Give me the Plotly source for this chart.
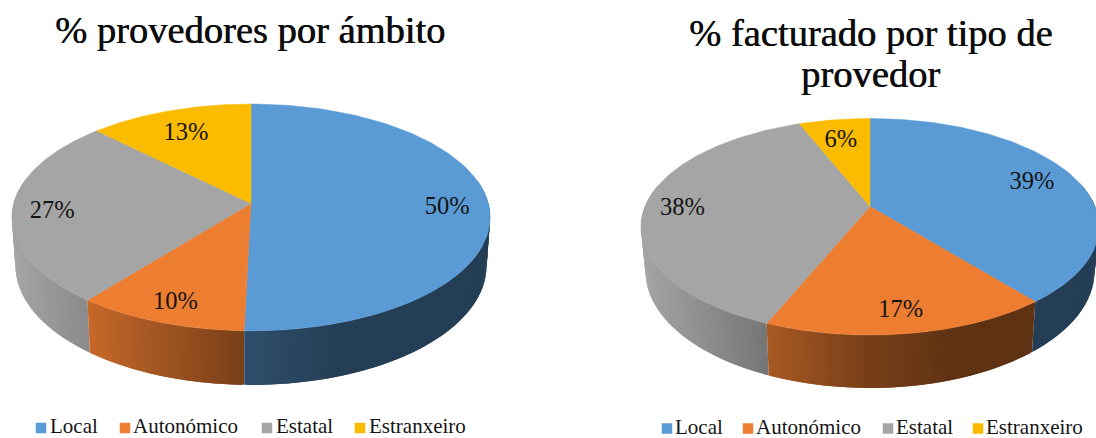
import numpy as np
import plotly.graph_objects as go

categories = ["Local", "Autonómico", "Estatal", "Estranxeiro"]
colors = ["#5B9BD5", "#ED7D31", "#A5A5A5", "#FBBC00"]
providers_share = [50.4, 10.3, 26.8, 12.5]
providers_labels = ["50%", "10%", "27%", "13%"]
billed_share = [39.2, 17.0, 37.8, 6.0]
billed_labels = ["39%", "17%", "38%", "6%"]

SERIF = "Liberation Serif, serif"
INK = "#141414"


def rgb(hex_color, f=1.0):
    h = hex_color.lstrip("#")
    r, g, b = [int(h[i:i + 2], 16) * f for i in (0, 2, 4)]
    return f"rgb({r:.0f},{g:.0f},{b:.0f})"


def project(theta, cx, cy, a, b, k, r=1.0):
    u, v = r * np.sin(theta), r * np.cos(theta)
    w = 1 + k * v
    return cx + a * u / w, cy - b * v / w, w


def draw_pie(fig, values, labels, cx, cy, a, b, k, depth, shrink, hw):
    edges = np.radians(np.concatenate([[0], np.cumsum(values)]) * 3.6)
    left = cx - hw
    overlap = np.radians(0.5)
    # wall, from the back towards the front
    pieces = []
    for i in range(len(values)):
        n = max(2, int(np.degrees(edges[i + 1] - edges[i])))
        th = np.linspace(edges[i], edges[i + 1], n + 1)
        for t0, t1 in zip(th[:-1], th[1:]):
            if np.cos((t0 + t1) / 2) < 0.2:
                pieces.append((np.cos((t0 + t1) / 2), i, t0, t1))
    pieces.sort(key=lambda p: -p[0])
    for _, i, t0, t1 in pieces:
        tm = (t0 + t1) / 2
        t0 = max(t0 - overlap, edges[i])
        t1 = min(t1 + overlap, edges[i + 1])
        x0, y0, w0 = project(t0, cx, cy, a, b, k)
        x1, y1, w1 = project(t1, cx, cy, a, b, k)
        xb0, yb0 = cx + (x0 - cx) * shrink, y0 + depth / w0
        xb1, yb1 = cx + (x1 - cx) * shrink, y1 + depth / w1
        xm = project(tm, cx, cy, a, b, k)[0]
        t = (xm - left) / (2 * hw)
        f = np.interp(t, [0, .16, .28, .5, .68], [1, .84, .71, .5, .4])
        col = rgb(colors[i], f)
        fig.add_trace(go.Scatter(
            x=[x0, x1, xb1, xb0, x0], y=[y0, y1, yb1, yb0, y0], mode="lines",
            fill="toself", fillcolor=col, line=dict(color=col, width=0),
            hoverinfo="skip", showlegend=False))
    # top face
    for i in range(len(values)):
        th = np.linspace(edges[i], edges[i + 1], 120)
        x, y, _ = project(th, cx, cy, a, b, k)
        fig.add_trace(go.Scatter(
            x=np.r_[cx, x, cx], y=np.r_[cy, y, cy], mode="lines", fill="toself",
            fillcolor=colors[i], line=dict(color=colors[i], width=0.5),
            name=categories[i], hoverinfo="name", showlegend=False))
    # data labels
    mids = (edges[:-1] + edges[1:]) / 2
    radii = 0.83 - 0.07 * np.clip(np.cos(mids), 0, 1)
    lx, ly, _ = project(mids, cx, cy, a, b, k, r=radii)
    fig.add_trace(go.Scatter(
        x=lx - 1, y=ly + 3, mode="text", text=labels, hoverinfo="skip", showlegend=False,
        textfont=dict(family=SERIF, size=24.5, color=INK)))


def draw_key(fig, marker_x, text_x, y):
    fig.add_trace(go.Scatter(
        x=marker_x, y=[y] * 4, mode="markers",
        marker=dict(symbol="square", size=10.5, color=colors, line=dict(width=0)),
        hoverinfo="skip", showlegend=False))
    fig.add_trace(go.Scatter(
        x=text_x, y=[y] * 4, mode="text", text=categories, textposition="middle right",
        textfont=dict(family=SERIF, size=21, color=INK), cliponaxis=False,
        hoverinfo="skip", showlegend=False))


fig = go.Figure()
draw_pie(fig, providers_share, providers_labels, 251, 203.5, 237.3, 111.7, 0.123, 47.4, 0.985, 239)
draw_pie(fig, billed_share, billed_labels, 870, 206.5, 225, 104.5, 0.187, 43, 0.98, 229)
draw_key(fig, [41, 125, 267, 360], [50, 133, 276, 369], 428)
draw_key(fig, [667, 748, 888, 978], [675, 756, 896, 986], 428.5)

titles = [
    dict(text="% provedores por ámbito", x=250, y=30),
    dict(text="% facturado por tipo de", x=870, y=33),
    dict(text="provedor", x=870, y=74),
]
fig.update_layout(
    width=1096, height=438, margin=dict(l=0, r=0, t=0, b=0),
    paper_bgcolor="white", plot_bgcolor="white", showlegend=False,
    xaxis=dict(range=[0, 1096], visible=False, fixedrange=True),
    yaxis=dict(range=[438, 0], visible=False, fixedrange=True),
    annotations=[dict(text=t["text"], x=t["x"], y=t["y"], xref="x", yref="y",
                      showarrow=False, xanchor="center", yanchor="middle",
                      font=dict(family=SERIF, size=38.5, color="#0c0c0c",
                                shadow="0.6px 0 0 #0c0c0c")) for t in titles],
)
fig.write_html("out.html", config={"displayModeBar": False},
               post_script="document.body.style.margin='0';")
